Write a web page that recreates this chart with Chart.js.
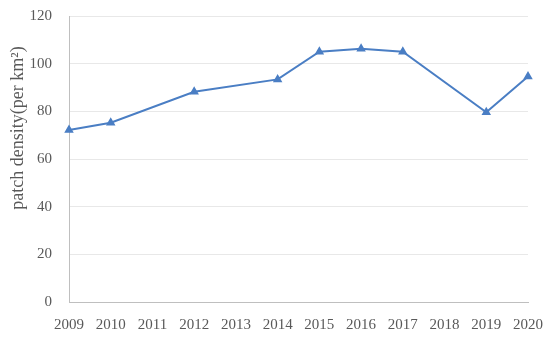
<!DOCTYPE html>
<html>
<head>
<meta charset="utf-8">
<script src="https://cdn.jsdelivr.net/npm/chart.js@4/dist/chart.umd.min.js"></script>
<style>
html,body{margin:0;padding:0;background:#fff;}
#wrap{width:550px;height:339px;position:relative;}
</style>
</head>
<body>
<div id="wrap"><canvas id="c" width="550" height="339"></canvas></div>
<script>
const years = ['2009','2010','2011','2012','2013','2014','2015','2016','2017','2018','2019','2020'];
const patchDensity = [72.2, 75.2, null, 88.2, null, 93.4, 105, 106.3, 105, null, 79.6, 94.6];
const yTicks = [0, 20, 40, 60, 80, 100, 120];
const yTitle = 'patch density(per km\u00B2)';

const FONT = '"Liberation Serif", "DejaVu Serif", serif';
const TXT = '#595959';

const titlePlugin = {
  id: 'yTitle',
  afterDraw(chart) {
    const ctx = chart.ctx;
    ctx.save();
    ctx.fillStyle = TXT;
    ctx.font = '18px ' + FONT;
    ctx.textAlign = 'center';
    ctx.textBaseline = 'middle';
    ctx.translate(18, 128);
    ctx.rotate(-Math.PI / 2);
    ctx.fillText(yTitle, 0, 0);
    ctx.restore();
  }
};

new Chart(document.getElementById('c'), {
  type: 'line',
  data: {
    labels: years,
    datasets: [{
      data: patchDensity,
      borderColor: '#4a7ec4',
      backgroundColor: '#4a7ec4',
      borderWidth: 2,
      pointStyle: 'triangle',
      pointRadius: 3.5,
      pointHoverRadius: 3.5,
      spanGaps: true,
      tension: 0
    }]
  },
  options: {
    responsive: false,
    animation: false,
    devicePixelRatio: 1,
    layout: { padding: { top: 16, right: 22, left: 0, bottom: 0 } },
    plugins: { legend: { display: false }, tooltip: { enabled: false } },
    scales: {
      x: {
        offset: false,
        grid: { display: false, drawTicks: false },
        border: { display: true, color: '#bfbfbf', width: 1 },
        ticks: { color: TXT, font: { family: FONT, size: 15 }, padding: 14, maxRotation: 0, autoSkip: false },
        afterFit(s) { s.height = 37; s.paddingLeft = 0; s.paddingRight = 0; }
      },
      y: {
        min: 0, max: 120,
        afterBuildTicks(s) { s.ticks = yTicks.map(v => ({ value: v })); },
        grid: { color: '#e8e8e8', drawTicks: false },
        border: { display: true, color: '#bfbfbf', width: 1 },
        ticks: { color: TXT, font: { family: FONT, size: 15 }, padding: 17 },
        afterFit(s) { s.width = 69; s.paddingTop = 0; s.paddingBottom = 0; }
      }
    }
  },
  plugins: [titlePlugin]
});
</script>
</body>
</html>
